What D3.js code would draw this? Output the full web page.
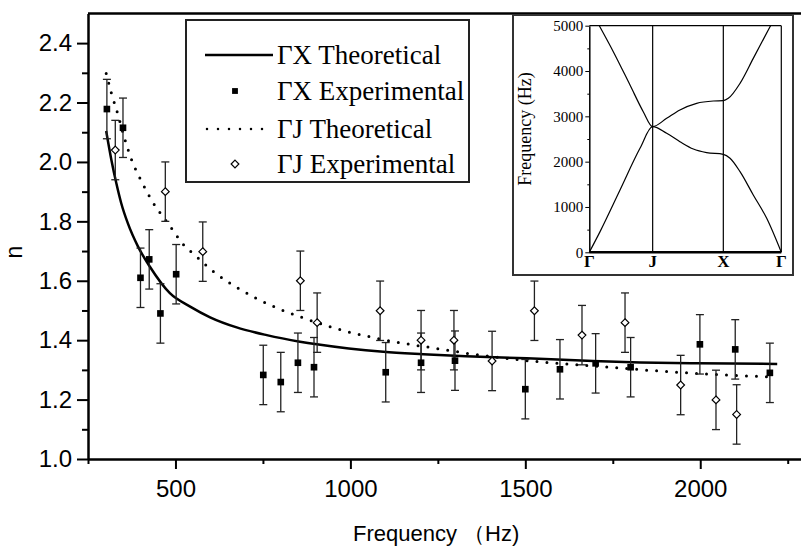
<!DOCTYPE html>
<html lang="en">
<head>
<meta charset="UTF-8">
<title>Refractive index vs frequency</title>
<script src="https://d3js.org/d3.v7.min.js"></script>
<style>
  body { margin: 0; background: #fff; }
  svg { display: block; }
</style>
</head>
<body>
<svg width="801" height="548"></svg>
<script>
// ---- data ----
// GammaX theoretical curve (frequency Hz, n)
var gxTheoryF = [302, 317, 331, 345, 364, 393, 427, 484, 542, 599, 675, 761, 856, 904, 1094, 1208, 1330, 1504, 1694, 1828, 1990, 2220];
var gxTheoryN = [2.104, 2.006, 1.928, 1.861, 1.793, 1.715, 1.647, 1.558, 1.513, 1.477, 1.443, 1.417, 1.395, 1.386, 1.361, 1.353, 1.346, 1.339, 1.330, 1.325, 1.322, 1.320];

// GammaJ theoretical curve
var gjTheoryF = [302, 317, 336, 353, 374, 402, 436, 479, 524, 555, 613, 675, 734, 795, 851, 942, 1004, 1061, 1123, 1180, 1242, 1332, 1542, 1628, 1723, 1837, 1961, 2075, 2200];
var gjTheoryN = [2.298, 2.231, 2.158, 2.085, 2.009, 1.937, 1.863, 1.793, 1.720, 1.687, 1.627, 1.578, 1.539, 1.506, 1.481, 1.445, 1.425, 1.410, 1.395, 1.384, 1.373, 1.356, 1.327, 1.319, 1.311, 1.300, 1.290, 1.283, 1.276];

// GammaX experimental points
var gxExpF = [304, 350, 400, 425, 457, 502, 751, 801, 850, 896, 1101, 1202, 1299, 1500, 1599, 1701, 1801, 1999, 2100, 2199];
var gxExpN = [2.178, 2.115, 1.610, 1.672, 1.490, 1.622, 1.283, 1.259, 1.324, 1.309, 1.292, 1.324, 1.331, 1.235, 1.302, 1.322, 1.309, 1.386, 1.369, 1.290];
var gxExpErr = [0.1, 0.1, 0.1, 0.1, 0.1, 0.1, 0.1, 0.1, 0.1, 0.1, 0.1, 0.1, 0.1, 0.1, 0.1, 0.1, 0.1, 0.1, 0.1, 0.1];

// GammaJ experimental points
var gjExpF = [328, 471, 578, 857, 905, 1085, 1202, 1296, 1405, 1526, 1662, 1785, 1944, 2045, 2104];
var gjExpN = [2.040, 1.900, 1.698, 1.600, 1.459, 1.499, 1.400, 1.400, 1.330, 1.499, 1.417, 1.459, 1.249, 1.199, 1.150];
var gjExpErr = [0.1, 0.1, 0.1, 0.1, 0.1, 0.1, 0.1, 0.1, 0.1, 0.1, 0.1, 0.1, 0.1, 0.1, 0.1];

var xMajor = [500, 1000, 1500, 2000];
var xMinor = [250, 750, 1250, 1750, 2250];
var yMajor = [1.0, 1.2, 1.4, 1.6, 1.8, 2.0, 2.2, 2.4];
var yMinor = [1.1, 1.3, 1.5, 1.7, 1.9, 2.1, 2.3];

var legendLabels = ["\u0393X Theoretical", "\u0393X Experimental", "\u0393J Theoretical", "\u0393J Experimental"];

// inset: band structure along the path Gamma-J-X-Gamma (k as fraction of path)
var symLabels = ["\u0393", "J", "X", "\u0393"];
var symK = [0, 0.330, 0.698, 1];
var band1K = [0, 0.056, 0.16, 0.264, 0.330, 0.403, 0.472, 0.542, 0.611, 0.698, 0.733, 0.785, 0.854, 0.924, 1];
var band1F = [0, 456, 1375, 2294, 2772, 2625, 2441, 2279, 2199, 2162, 2074, 1779, 1265, 750, 0];
var band2K = [0.052, 0.125, 0.212, 0.281, 0.330, 0.403, 0.472, 0.559, 0.646, 0.698, 0.724, 0.785, 0.854, 0.944];
var band2F = [5000, 4427, 3691, 3103, 2772, 2956, 3140, 3287, 3338, 3346, 3397, 3728, 4279, 5000];
var insetTicks = [0, 1000, 2000, 3000, 4000, 5000];
var insetMinor = [500, 1500, 2500, 3500, 4500];

// ---- main chart ----
var svg = d3.select("svg");
var sans = "'Liberation Sans', Arial, sans-serif";
var serif = "'Liberation Serif', 'Times New Roman', serif";

var x = d3.scaleLinear().domain([250, 2300]).range([88, 805.2]);
var y = d3.scaleLinear().domain([1.0, 2.5]).range([459, 13.4]);

function zip(a, b) { return a.map(function(d, i) { return [d, b[i]]; }); }

// top frame
svg.append("line")
    .attr("x1", x(250)).attr("x2", x(2300))
    .attr("y1", y(2.5)).attr("y2", y(2.5))
    .attr("stroke", "#000").attr("stroke-width", 2.5);

// axes
var gx = svg.append("g").attr("transform", "translate(0," + y(1.0) + ")")
    .call(d3.axisBottom(x).tickValues(xMajor).tickSize(10).tickPadding(11)
        .tickFormat(d3.format("d")).tickSizeOuter(0));
svg.append("g").attr("transform", "translate(0," + y(1.0) + ")")
    .call(d3.axisBottom(x).tickValues(xMinor).tickSize(5).tickFormat("").tickSizeOuter(0))
    .select(".domain").remove();
var gy = svg.append("g").attr("transform", "translate(" + x(250) + ",0)")
    .call(d3.axisLeft(y).tickValues(yMajor).tickSize(11).tickPadding(5).tickFormat(d3.format(".1f")).tickSizeOuter(0));
svg.append("g").attr("transform", "translate(" + x(250) + ",0)")
    .call(d3.axisLeft(y).tickValues(yMinor).tickSize(6).tickFormat("").tickSizeOuter(0))
    .select(".domain").remove();

svg.selectAll(".domain").attr("stroke", "#000").attr("stroke-width", 2.5);
svg.selectAll(".tick line").attr("stroke", "#000").attr("stroke-width", 2);
svg.selectAll(".tick text").attr("font-family", sans).attr("font-size", 24).attr("fill", "#000");

// axis titles
svg.append("text")
    .attr("transform", "translate(22,252) rotate(-90)")
    .attr("text-anchor", "middle")
    .attr("font-family", sans).attr("font-size", 23)
    .text("n");
svg.append("text")
    .attr("x", 353).attr("y", 541)
    .attr("font-family", sans).attr("font-size", 22)
    .text("Frequency \uFF08Hz)");

// theory curves
var line = d3.line()
    .x(function(d) { return x(d[0]); })
    .y(function(d) { return y(d[1]); })
    .curve(d3.curveMonotoneX);

svg.append("path")
    .datum(zip(gjTheoryF, gjTheoryN))
    .attr("d", line)
    .attr("fill", "none").attr("stroke", "#000")
    .attr("stroke-width", 3).attr("stroke-linecap", "round")
    .attr("stroke-dasharray", "0,10");

svg.append("path")
    .datum(zip(gxTheoryF, gxTheoryN))
    .attr("d", line)
    .attr("fill", "none").attr("stroke", "#000").attr("stroke-width", 2.5);

// error bars
function errorBars(fs, ns, es) {
    var g = svg.append("g").attr("stroke", "#222").attr("stroke-width", 1.3);
    var data = fs.map(function(f, i) { return {f: f, n: ns[i], e: es[i]}; });
    g.selectAll(".v").data(data).enter().append("line")
        .attr("x1", function(d) { return x(d.f); }).attr("x2", function(d) { return x(d.f); })
        .attr("y1", function(d) { return y(d.n - d.e); }).attr("y2", function(d) { return y(d.n + d.e); });
    [-1, 1].forEach(function(s) {
        g.selectAll(".c" + s).data(data).enter().append("line")
            .attr("x1", function(d) { return x(d.f) - 4; }).attr("x2", function(d) { return x(d.f) + 4; })
            .attr("y1", function(d) { return y(d.n + s * d.e); }).attr("y2", function(d) { return y(d.n + s * d.e); });
    });
}
errorBars(gxExpF, gxExpN, gxExpErr);
errorBars(gjExpF, gjExpN, gjExpErr);

var square = d3.symbol().type(d3.symbolSquare).size(44);
var diamond = d3.symbol().type(d3.symbolDiamond2).size(38);

svg.append("g").selectAll("path")
    .data(zip(gxExpF, gxExpN)).enter().append("path")
    .attr("d", square)
    .attr("transform", function(d) { return "translate(" + x(d[0]) + "," + y(d[1]) + ")"; })
    .attr("fill", "#000");

svg.append("g").selectAll("path")
    .data(zip(gjExpF, gjExpN)).enter().append("path")
    .attr("d", diamond)
    .attr("transform", function(d) { return "translate(" + x(d[0]) + "," + y(d[1]) + ")"; })
    .attr("fill", "#fff").attr("stroke", "#000").attr("stroke-width", 1.2);

// legend
var lg = svg.append("g");
lg.append("rect").attr("x", 186).attr("y", 20).attr("width", 283).attr("height", 162)
    .attr("fill", "#fff").attr("stroke", "#222").attr("stroke-width", 2);
var rows = [55, 91, 129, 164];
lg.append("line").attr("x1", 205).attr("x2", 273).attr("y1", rows[0]).attr("y2", rows[0])
    .attr("stroke", "#000").attr("stroke-width", 2.5);
lg.append("path").attr("d", d3.symbol().type(d3.symbolSquare).size(34))
    .attr("transform", "translate(235," + rows[1] + ")").attr("fill", "#000");
lg.append("line").attr("x1", 207).attr("x2", 273).attr("y1", rows[2]).attr("y2", rows[2])
    .attr("stroke", "#000").attr("stroke-width", 2.5).attr("stroke-linecap", "round")
    .attr("stroke-dasharray", "0,11");
lg.append("path").attr("d", diamond).attr("transform", "translate(235," + rows[3] + ")")
    .attr("fill", "#fff").attr("stroke", "#000").attr("stroke-width", 1.2);
lg.selectAll(".lt").data(legendLabels).enter().append("text")
    .attr("x", 277).attr("y", function(d, i) { return rows[i] + 9; })
    .attr("font-family", serif).attr("font-size", 27)
    .text(function(d) { return d; });

// ---- inset band structure ----
var inset = svg.append("g");
inset.append("rect").attr("x", 513).attr("y", 15).attr("width", 280).attr("height", 260)
    .attr("fill", "#fff").attr("stroke", "#333").attr("stroke-width", 2);

var kx = d3.scaleLinear().domain([0, 1]).range([589.3, 781.3]);
var fy = d3.scaleLinear().domain([0, 5000]).range([252.3, 25.7]);

var iy = inset.append("g").attr("transform", "translate(" + kx(0) + ",0)")
    .call(d3.axisLeft(fy).tickValues(insetTicks).tickSize(4).tickPadding(2)
        .tickFormat(d3.format("d")).tickSizeOuter(0));
inset.append("g").attr("transform", "translate(" + kx(0) + ",0)")
    .call(d3.axisLeft(fy).tickValues(insetMinor).tickSize(2).tickFormat("").tickSizeOuter(0))
    .select(".domain").remove();
iy.select(".domain").attr("stroke", "#000").attr("stroke-width", 1.5);
inset.selectAll(".tick line").attr("stroke", "#000").attr("stroke-width", 1);
iy.selectAll(".tick text").attr("font-family", serif).attr("font-size", 15).attr("fill", "#000");

// top frame and symmetry lines
inset.append("line").attr("x1", kx(0)).attr("x2", kx(1)).attr("y1", fy(5000)).attr("y2", fy(5000))
    .attr("stroke", "#000").attr("stroke-width", 1.2);
inset.selectAll(".sym").data(symK.slice(1)).enter().append("line")
    .attr("x1", function(d) { return kx(d); }).attr("x2", function(d) { return kx(d); })
    .attr("y1", fy(0)).attr("y2", fy(5000))
    .attr("stroke", "#000").attr("stroke-width", 1.2);
inset.append("line").attr("x1", kx(0)).attr("x2", kx(1)).attr("y1", fy(0)).attr("y2", fy(0))
    .attr("stroke", "#000").attr("stroke-width", 2.5);

inset.selectAll(".sl").data(symLabels).enter().append("text")
    .attr("x", function(d, i) { return kx(symK[i]); })
    .attr("y", 267)
    .attr("text-anchor", "middle")
    .attr("font-family", serif).attr("font-size", 17).attr("font-weight", "bold")
    .text(function(d) { return d; });

inset.append("text")
    .attr("transform", "translate(531,129) rotate(-90)")
    .attr("text-anchor", "middle")
    .attr("font-family", serif).attr("font-size", 18)
    .text("Frequency (Hz)");

var bandLine = d3.line()
    .x(function(d) { return kx(d[0]); })
    .y(function(d) { return fy(d[1]); })
    .curve(d3.curveMonotoneX);
[zip(band1K, band1F), zip(band2K, band2F)].forEach(function(b) {
    inset.append("path").datum(b).attr("d", bandLine)
        .attr("fill", "none").attr("stroke", "#000").attr("stroke-width", 1.2);
});
</script>
</body>
</html>
